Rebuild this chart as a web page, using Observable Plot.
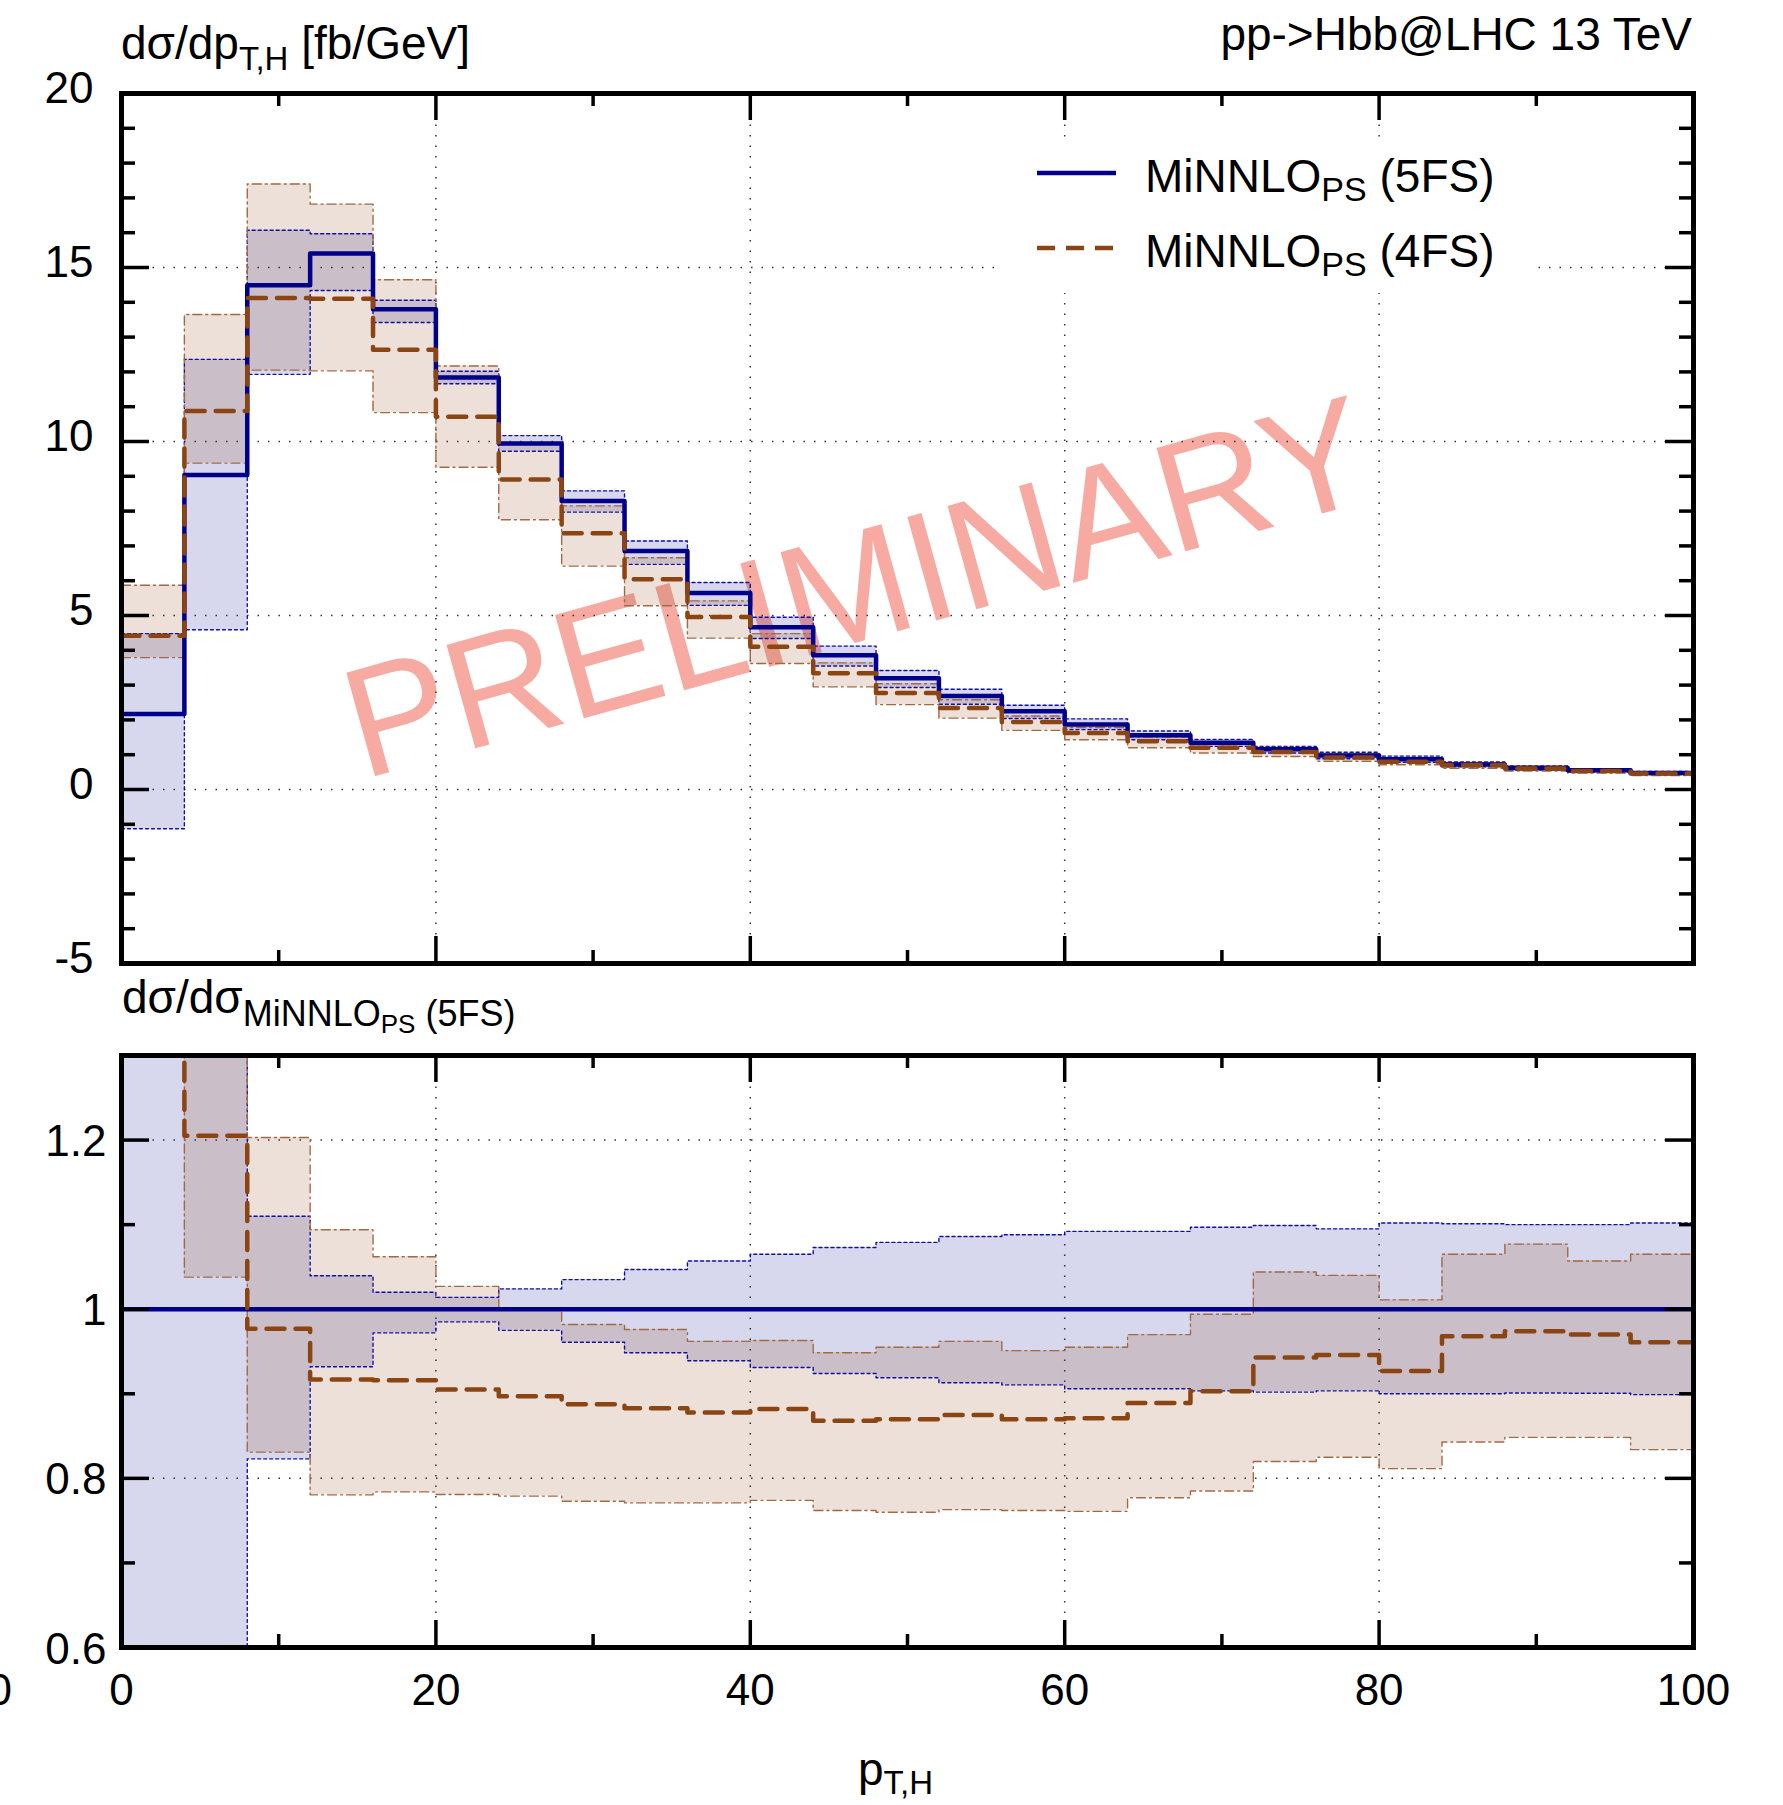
<!DOCTYPE html>
<html><head><meta charset="utf-8">
<script src="https://cdn.jsdelivr.net/npm/d3@7"></script>
<script src="https://cdn.jsdelivr.net/npm/@observablehq/plot@0.6"></script>
<style>
html,body{margin:0;padding:0;background:#fff;}
#wrap{position:relative;width:1783px;height:1805px;overflow:hidden;background:#fff;}
#wrap svg{position:absolute;left:0;}
</style></head><body><div id="wrap"></div>
<script>
// ---------- data ----------
const binEdges = [0,4,8,12,16,20,24,28,32,36,40,44,48,52,56,60,64,68,72,76,80,84,88,92,96,100];

// upper panel: dsigma/dpT [fb/GeV]
const central5FS = [2.17,9.04,14.49,15.40,13.80,11.84,9.94,8.29,6.85,5.65,4.66,3.86,3.20,2.69,2.25,1.87,1.56,1.34,1.16,0.98,0.87,0.72,0.62,0.55,0.475];
const lower5FS   = [-1.13,4.59,11.93,14.34,13.42,11.66,9.72,7.97,6.47,5.29,4.34,3.55,2.93,2.45,2.04,1.72,1.43,1.24,1.05,0.885,0.78,0.65,0.56,0.50,0.43];
const upper5FS   = [4.48,12.36,16.07,15.97,14.06,12.02,10.17,8.58,7.14,5.95,4.95,4.12,3.42,2.88,2.42,2.03,1.68,1.44,1.24,1.07,0.96,0.79,0.68,0.60,0.52];
const central4FS = [4.42,10.88,14.12,14.10,12.64,10.71,8.91,7.36,6.04,4.96,4.10,3.34,2.77,2.34,1.94,1.62,1.39,1.20,1.08,0.92,0.80,0.70,0.60,0.53,0.46];
const lower4FS   = [3.79,9.38,12.05,12.03,10.83,9.26,7.75,6.42,5.28,4.35,3.62,2.95,2.44,2.05,1.70,1.43,1.20,1.05,0.95,0.81,0.71,0.61,0.53,0.47,0.40];
const upper4FS   = [5.87,13.65,17.40,16.82,14.65,12.17,9.96,8.15,6.66,5.42,4.48,3.64,3.04,2.58,2.11,1.78,1.51,1.33,1.21,1.02,0.88,0.77,0.67,0.58,0.51];

// lower panel: ratio to MiNNLO_PS (5FS)
const ratioRef   = [1];
const ratioLo5FS = [-0.52,0.508,0.823,0.932,0.972,0.985,0.975,0.961,0.9485,0.939,0.931,0.924,0.919,0.913,0.9105,0.906,0.906,0.9035,0.902,0.9035,0.900,0.900,0.901,0.9007,0.899];
const ratioHi5FS = [2.06,1.367,1.110,1.0395,1.020,1.014,1.024,1.035,1.047,1.057,1.065,1.073,1.079,1.086,1.088,1.092,1.092,1.097,1.099,1.095,1.102,1.101,1.100,1.100,1.102];
const ratio4FS   = [2.04,1.205,0.977,0.917,0.916,0.905,0.897,0.8875,0.883,0.878,0.882,0.868,0.870,0.875,0.870,0.871,0.889,0.903,0.943,0.946,0.927,0.968,0.974,0.970,0.961];
const ratioLo4FS = [1.75,1.038,0.831,0.7805,0.784,0.781,0.779,0.773,0.771,0.771,0.774,0.762,0.760,0.763,0.762,0.761,0.777,0.785,0.820,0.825,0.8115,0.843,0.8485,0.8485,0.834];
const ratioHi4FS = [2.70,1.51,1.203,1.094,1.062,1.027,1.0015,0.982,0.976,0.962,0.963,0.9485,0.955,0.962,0.951,0.955,0.970,0.994,1.044,1.040,1.011,1.065,1.077,1.057,1.065];

// ticks
const xTickMajor = [0,20,40,60,80,100];
const xTickMinor = [10,30,50,70,90];
const xGrid = [20,40,60,80];
const yTickTop = [-5,0,5,10,15,20];
const yMinorTop = [-4,-3,-2,-1,1,2,3,4,6,7,8,9,11,12,13,14,16,17,18,19];
const yGridTop = [0,5,10,15];
const yTickBot = [0.6,0.8,1,1.2];
const yTickBotLabels = ["0.6","0.8","1","1.2"];
const yMinorBot = [0.7,0.9,1.1];
const yGridBot = [0.8,1,1.2];

// ---------- style ----------
const FONT = '"Liberation Sans", Arial, Helvetica, sans-serif';
const NAVY = "#00008b", BROWN = "#8b4513";
const W = 1783, ML = 121, MR = 90, FW = W - ML - MR;

function steps(v){ return binEdges.map((x,i)=>({x, y: v[Math.min(i, v.length-1)]})); }
function bands(lo, hi){ return binEdges.map((x,i)=>({x, lo: lo[Math.min(i,lo.length-1)], hi: hi[Math.min(i,hi.length-1)]})); }

function commonMarks(yTicks, yMinor, yGrid, bandA, bandB, lineA, lineB, extraBefore){
  return [
    ...extraBefore,
    Plot.areaY(bandA, {x:"x", y1:"lo", y2:"hi", curve:"step-after", fill:NAVY, fillOpacity:0.155, clip:true}),
    Plot.areaY(bandB, {x:"x", y1:"lo", y2:"hi", curve:"step-after", fill:BROWN, fillOpacity:0.165, clip:true}),
    Plot.ruleY(yGrid, {y:d=>d, stroke:"#333", strokeWidth:1.5, strokeDasharray:"1.5,9"}),
    Plot.ruleX(xGrid, {x:d=>d, stroke:"#333", strokeWidth:1.5, strokeDasharray:"1.5,9"}),
    Plot.line(bandA, {x:"x", y:"lo", curve:"step-after", stroke:"#1010a8", strokeWidth:1.4, strokeDasharray:"3,3", clip:true}),
    Plot.line(bandA, {x:"x", y:"hi", curve:"step-after", stroke:"#1010a8", strokeWidth:1.4, strokeDasharray:"3,3", clip:true}),
    Plot.line(bandB, {x:"x", y:"lo", curve:"step-after", stroke:"#a06a45", strokeWidth:1.4, strokeDasharray:"9,4,2,4", clip:true}),
    Plot.line(bandB, {x:"x", y:"hi", curve:"step-after", stroke:"#a06a45", strokeWidth:1.4, strokeDasharray:"9,4,2,4", clip:true}),
    lineA,
    lineB,
    // ticks (inward, all four sides)
    Plot.tickY(yTicks, {y:d=>d, insetRight:FW-28, stroke:"black", strokeWidth:3.5}),
    Plot.tickY(yTicks, {y:d=>d, insetLeft:FW-28, stroke:"black", strokeWidth:3.5}),
    Plot.tickY(yMinor, {y:d=>d, insetRight:FW-14, stroke:"black", strokeWidth:3.5}),
    Plot.tickY(yMinor, {y:d=>d, insetLeft:FW-14, stroke:"black", strokeWidth:3.5}),
  ];
}

const wrap = document.getElementById("wrap");

// ---------- upper panel ----------
const H1 = 970, MT1 = 93, MB1 = 7, FH1 = H1 - MT1 - MB1;
const upperSvg = Plot.plot({
  width: W, height: H1, marginLeft: ML, marginRight: MR, marginTop: MT1, marginBottom: MB1,
  x: {domain:[0,100], axis:null}, y: {domain:[-5,20], axis:null},
  style: {background:"transparent", overflow:"visible", fontFamily:FONT, color:"black"},
  marks: [
    ...commonMarks(yTickTop, yMinorTop, yGridTop,
      bands(lower5FS, upper5FS), bands(lower4FS, upper4FS),
      Plot.line(steps(central5FS), {x:"x", y:"y", curve:"step-after", stroke:NAVY, strokeWidth:4.5, clip:true}),
      Plot.line(steps(central4FS), {x:"x", y:"y", curve:"step-after", stroke:BROWN, strokeWidth:4.5, strokeDasharray:"18,11", clip:true}),
      [Plot.text(["PRELIMINARY"], {frameAnchor:"middle", text:d=>d, rotate:-15.5, fontSize:156, fontFamily:FONT, fill:"#f6aaa2", dx:-50, dy:62})]
    ),
    Plot.tickX(xTickMajor, {x:d=>d, insetBottom:FH1-27, stroke:"black", strokeWidth:3.5}),
    Plot.tickX(xTickMajor, {x:d=>d, insetTop:FH1-27, stroke:"black", strokeWidth:3.5}),
    Plot.tickX(xTickMinor, {x:d=>d, insetBottom:FH1-13, stroke:"black", strokeWidth:3.5}),
    Plot.tickX(xTickMinor, {x:d=>d, insetTop:FH1-13, stroke:"black", strokeWidth:3.5}),
    Plot.text(yTickTop, {y:d=>d, text:d=>String(d), frameAnchor:"left", textAnchor:"end", dx:-28, dy:-5, fontSize:44, fill:"black"}),
    Plot.frame({stroke:"black", strokeWidth:5})
  ]
});
upperSvg.style.top = "0px";
wrap.appendChild(upperSvg);

// ---------- lower panel ----------
const Y2 = 970, H2 = 835, MT2 = 85, MB2 = 158, FH2 = H2 - MT2 - MB2;
const lowerSvg = Plot.plot({
  width: W, height: H2, marginLeft: ML, marginRight: MR, marginTop: MT2, marginBottom: MB2,
  x: {domain:[0,100], axis:null}, y: {domain:[0.6,1.3], axis:null},
  style: {background:"transparent", overflow:"visible", fontFamily:FONT, color:"black"},
  marks: [
    ...commonMarks(yTickBot, yMinorBot, yGridBot,
      bands(ratioLo5FS, ratioHi5FS), bands(ratioLo4FS, ratioHi4FS),
      Plot.ruleY(ratioRef, {y:d=>d, stroke:NAVY, strokeWidth:4.5}),
      Plot.line(steps(ratio4FS), {x:"x", y:"y", curve:"step-after", stroke:BROWN, strokeWidth:4.5, strokeDasharray:"18,11", clip:true}),
      []
    ),
    Plot.tickX(xTickMajor, {x:d=>d, insetBottom:FH2-27, stroke:"black", strokeWidth:3.5}),
    Plot.tickX(xTickMajor, {x:d=>d, insetTop:FH2-27, stroke:"black", strokeWidth:3.5}),
    Plot.tickX(xTickMinor, {x:d=>d, insetBottom:FH2-13, stroke:"black", strokeWidth:3.5}),
    Plot.tickX(xTickMinor, {x:d=>d, insetTop:FH2-13, stroke:"black", strokeWidth:3.5}),
    Plot.text(yTickBot, {y:d=>d, text:(d,i)=>yTickBotLabels[i], frameAnchor:"left", textAnchor:"end", dx:-15, dy:2, fontSize:44, fill:"black"}),
    Plot.text(xTickMajor, {x:d=>d, text:d=>String(d), frameAnchor:"bottom", lineAnchor:"top", dy:26, fontSize:44, fill:"black"}),
    Plot.frame({stroke:"black", strokeWidth:5})
  ]
});
lowerSvg.style.top = Y2 + "px";
wrap.appendChild(lowerSvg);

// ---------- texts ----------
function txt(sel, x, y, size, anchor){
  return sel.append("text").attr("x", x).attr("y", y).attr("font-size", size)
    .attr("font-family", FONT).attr("fill", "black").attr("text-anchor", anchor || "start");
}
const s1 = d3.select(upperSvg);
let t = txt(s1, ML, 59, 46);
t.append("tspan").text("dσ/dp");
t.append("tspan").attr("y", 70).attr("font-size", 33).text("T,H");
t.append("tspan").attr("y", 59).text("\u00a0[fb/GeV]");

txt(s1, 1692, 50, 46, "end").text("pp->Hbb@LHC 13 TeV");

// legend
const lg = s1.append("g");
lg.append("rect").attr("x",1003).attr("y",137).attr("width",534).attr("height",156).attr("fill","white");
lg.append("line").attr("x1",1037).attr("x2",1116).attr("y1",173).attr("y2",173).attr("stroke",NAVY).attr("stroke-width",4.5);
lg.append("line").attr("x1",1037).attr("x2",1116).attr("y1",248).attr("y2",248).attr("stroke",BROWN).attr("stroke-width",4.5).attr("stroke-dasharray","18,11");
[["(5FS)",192],["(4FS)",267]].forEach(([lab,y])=>{
  const tt = txt(lg, 1145, y, 46);
  tt.append("tspan").text("MiNNLO");
  tt.append("tspan").attr("y", y+9).attr("font-size",34).text("PS");
  tt.append("tspan").attr("y", y).text("\u00a0" + lab);
});

const s2 = d3.select(lowerSvg);
t = txt(s2, 122, 43, 46);
t.append("tspan").text("dσ/dσ");
t.append("tspan").attr("y", 56).attr("font-size", 36).text("MiNNLO");
t.append("tspan").attr("y", 63).attr("font-size", 26).text("PS");
t.append("tspan").attr("y", 56).attr("font-size", 36).text("\u00a0(5FS)");

t = txt(s2, 858, 815, 46);
t.append("tspan").text("p");
t.append("tspan").attr("y", 824).attr("font-size", 33).text("T,H");

txt(s2, 12, 735, 44, "end").text("0");
</script>
</body></html>
